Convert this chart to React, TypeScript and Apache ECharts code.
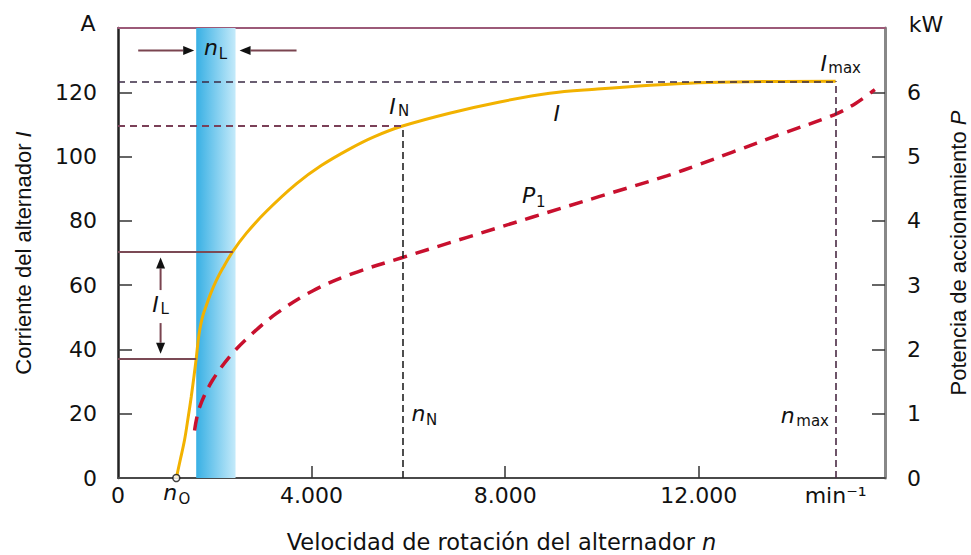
import React, { useEffect, useRef } from "react";
import * as echarts from "echarts";

// ---- data ----
const speedI = [1205, 1286, 1375, 1451, 1513, 1568, 1616, 1657, 1699, 1754, 1823, 1912, 2030, 2167, 2373, 2650, 3063, 3684, 4200, 4790, 5300, 5880, 6850, 7890, 8920, 9910, 11000, 12000, 13000, 14830];
const currentI = [0, 5.6, 11.8, 19, 25.2, 31.4, 37.1, 42.8, 46.9, 50.5, 53.6, 57.3, 61.4, 65.3, 70.5, 76.1, 82.9, 91.5, 97.2, 102.4, 106.2, 109.5, 113.5, 117, 119.7, 121, 122.2, 123, 123.3, 123.4];
const speedP = [1582, 1685, 1953, 2367, 2780, 3276, 4020, 4847, 5880, 7200, 8570, 9954, 11340, 12020, 12700, 13700, 14800, 15250, 15640];
const powerP = [0.74, 1.1, 1.52, 1.94, 2.25, 2.56, 2.91, 3.18, 3.43, 3.74, 4.06, 4.38, 4.7, 4.88, 5.07, 5.35, 5.65, 5.83, 6.04];

const xTicks = [4000, 8000, 12000];
const xLabels = [0, 4000, 8000, 12000];
const leftTicks = [20, 40, 60, 80, 100, 120];
const leftLabels = [0, 20, 40, 60, 80, 100, 120];
const rightTicks = [1, 2, 3, 4, 5, 6];
const rightLabels = [0, 1, 2, 3, 4, 5, 6];

const X_MAX = 15850;
const Y_MAX = 140;
const P_MAX = 7;
const N0 = 1205;
const N_N = 5880;
const N_MAX = 14830;
const I_N = 109.5;
const I_MAX = 123.4;
const IL = [37.1, 70.5];
const IL_SPEED = [1616, 2373];
const NL = [1616, 2429];
const NL_LABEL_I = 133;
const IL_ARROW_N = 880;
const I_LABEL = [9065, 113.5];
const P_LABEL = [8486, 4.39];
const NMARK_I = 20;

const TXT = "#111";
const TICKFONT = "DejaVu Sans";

function fmtX(v: number) {
  if (v === N_MAX) return "min\u207B\u00B9";
  if (v === 0) return "0";
  return `${v / 1000}.000`;
}

export default function App() {
  const ref = useRef<HTMLDivElement>(null);
  useEffect(() => {
    if (!ref.current) return;
    const chart = echarts.init(ref.current, null, { renderer: "svg" });
    const option: any = {
      animation: false,
      backgroundColor: "#fff",
      grid: { left: 118, right: 86, top: 28, bottom: 77, containLabel: false, outerBoundsMode: "none" },
      xAxis: [
        {
          type: "value",
          min: 0,
          max: X_MAX,
          position: "bottom",
          splitLine: { show: false },
          axisLine: { show: true, onZero: false, lineStyle: { color: "#4a4a4a", width: 2 } },
          axisTick: { show: true, inside: true, length: 12, customValues: xTicks, lineStyle: { color: "#333", width: 1.5 } },
          axisLabel: {
            customValues: [...xLabels, N_MAX],
            formatter: fmtX,
            fontFamily: TICKFONT,
            fontSize: 22,
            color: TXT,
            margin: 6,
          },
          name: "Velocidad de rotación del alternador {i|n}",
          nameLocation: "middle",
          nameGap: 52,
          nameTextStyle: {
            fontFamily: TICKFONT,
            fontSize: 22.5,
            color: TXT,
            rich: { i: { fontFamily: TICKFONT, fontSize: 22.5, fontStyle: "italic", color: TXT } },
          },
        },
        {
          type: "value",
          min: 0,
          max: X_MAX,
          position: "top",
          splitLine: { show: false },
          axisLine: { show: true, onZero: false, lineStyle: { color: "#9c5a78", width: 2 } },
          axisTick: { show: false },
          axisLabel: { show: false },
        },
      ],
      yAxis: [
        {
          type: "value",
          min: 0,
          max: Y_MAX,
          interval: 20,
          position: "left",
          splitLine: { show: false },
          axisLine: { show: true, onZero: false, lineStyle: { color: "#222", width: 2.5 } },
          axisTick: { show: true, inside: true, length: 14, customValues: leftTicks, lineStyle: { color: "#333", width: 1.5 } },
          axisLabel: { customValues: leftLabels, fontFamily: TICKFONT, fontSize: 22, color: TXT, margin: 21 },
          name: "Corriente del alternador {i|I}",
          nameLocation: "middle",
          nameRotate: 90,
          nameGap: 84,
          nameTextStyle: {
            fontFamily: "Liberation Sans",
            fontSize: 22,
            color: TXT,
            rich: { i: { fontFamily: "Liberation Sans", fontSize: 22, fontStyle: "italic", color: TXT } },
          },
        },
        {
          type: "value",
          min: 0,
          max: P_MAX,
          interval: 1,
          position: "right",
          splitLine: { show: false },
          axisLine: { show: true, onZero: false, lineStyle: { color: "#888", width: 3 } },
          axisTick: { show: true, inside: true, length: 13, customValues: rightTicks, lineStyle: { color: "#333", width: 1.5 } },
          axisLabel: { customValues: rightLabels, fontFamily: TICKFONT, fontSize: 22, color: TXT, margin: 22 },
          name: "Potencia de accionamiento {i|P}",
          nameLocation: "middle",
          nameRotate: 90,
          nameGap: 62,
          nameTextStyle: {
            fontFamily: "Liberation Sans",
            fontSize: 22,
            color: TXT,
            rich: { i: { fontFamily: "Liberation Sans", fontSize: 22, fontStyle: "italic", color: TXT } },
          },
        },
      ],
      series: [
        {
          name: "band",
          type: "line",
          data: [],
          z: 1,
          silent: true,
          markArea: {
            silent: true,
            itemStyle: {
              color: new echarts.graphic.LinearGradient(0, 0, 1, 0, [
                { offset: 0, color: "#38b0e4" },
                { offset: 1, color: "#c4eafa" },
              ]),
            },
            data: [[{ xAxis: NL[0] }, { xAxis: NL[1] }]],
          },
        },
        {
          name: "refs",
          type: "line",
          data: [],
          z: 2,
          silent: true,
          markLine: {
            silent: true,
            symbol: ["none", "none"],
            label: { show: false },
            animation: false,
            data: [
              [{ coord: [0, I_MAX], lineStyle: { color: "#3a2a44", width: 1.6, type: [7, 5] } }, { coord: [N_MAX, I_MAX] }],
              [{ coord: [0, I_N], lineStyle: { color: "#7a4058", width: 1.8, type: [7, 5] } }, { coord: [N_N, I_N] }],
              [{ coord: [N_N, 0], lineStyle: { color: "#222", width: 1.6, type: [7, 4] } }, { coord: [N_N, I_N] }],
              [{ coord: [N_MAX, 0], lineStyle: { color: "#4a2a44", width: 1.6, type: [7, 4] } }, { coord: [N_MAX, I_MAX] }],
              [{ coord: [0, IL[0]], lineStyle: { color: "#7b4a55", width: 2, type: "solid" } }, { coord: [IL_SPEED[0], IL[0]] }],
              [{ coord: [0, IL[1]], lineStyle: { color: "#7b4a55", width: 2, type: "solid" } }, { coord: [IL_SPEED[1], IL[1]] }],
            ],
          },
        },
        {
          name: "P1",
          type: "line",
          yAxisIndex: 1,
          z: 3,
          smooth: 0.35,
          symbol: "none",
          lineStyle: { color: "#c8102e", width: 3.5, type: [14, 9] },
          data: speedP.map((n, i) => [n, powerP[i]]),
        },
        {
          name: "I",
          type: "line",
          z: 4,
          smooth: 0.35,
          symbol: "none",
          lineStyle: { color: "#f2b200", width: 3 },
          data: speedI.map((n, i) => [n, currentI[i]]),
        },
        {
          name: "n0",
          type: "scatter",
          z: 5,
          symbol: "circle",
          symbolSize: 7,
          itemStyle: { color: "#fff", borderColor: "#111", borderWidth: 1.5 },
          data: [[N0, 0]],
        },
      ],
    };
    chart.setOption(option);

    const px = (n: number, v: number, yi = 0): number[] =>
      chart.convertToPixel({ xAxisIndex: 0, yAxisIndex: yi }, [n, v]) as number[];

    const italic = 'italic 22px "DejaVu Sans"';
    const sub = '15px "DejaVu Sans"';
    const txt = (text: string, x: number, y: number, font: string, align = "center") => ({
      type: "text",
      x,
      y,
      z: 20,
      silent: true,
      style: { text, font, fill: TXT, align, verticalAlign: "middle" },
    });
    const arrow = (x1: number, y1: number, x2: number, y2: number) => {
      const dx = x2 - x1;
      const dy = y2 - y1;
      const len = Math.hypot(dx, dy);
      const ux = dx / len;
      const uy = dy / len;
      const bx = x2 - ux * 11;
      const by = y2 - uy * 11;
      const pxv = -uy * 4.5;
      const pyv = ux * 4.5;
      return [
        { type: "line", z: 20, silent: true, shape: { x1, y1, x2: bx, y2: by }, style: { stroke: "#7a4450", lineWidth: 2 } },
        {
          type: "polygon",
          z: 20,
          silent: true,
          shape: { points: [[x2, y2], [bx + pxv, by + pyv], [bx - pxv, by - pyv]] },
          style: { fill: "#111" },
        },
      ];
    };

    const pN = px(N_N, I_N);
    const pMax = px(N_MAX, I_MAX);
    const pI = px(I_LABEL[0], I_LABEL[1]);
    const pP = px(P_LABEL[0], P_LABEL[1], 1);
    const pNN = px(N_N, NMARK_I);
    const pNMax = px(N_MAX, NMARK_I);
    const p0 = px(N0, 0);
    const bandL = px(NL[0], NL_LABEL_I);
    const bandR = px(NL[1], NL_LABEL_I);
    const bandC = (bandL[0] + bandR[0]) / 2;
    const ilLow = px(IL_ARROW_N, IL[0]);
    const ilHigh = px(IL_ARROW_N, IL[1]);
    const ilMid = (ilLow[1] + ilHigh[1]) / 2;
    const origin = px(0, 0);
    const corner = px(X_MAX, Y_MAX);

    const graphic: any[] = [
      txt("A", origin[0] - 30, corner[1] - 5, '22px "DejaVu Sans"'),
      txt("kW", corner[0] + 41, corner[1] - 4, '22px "DejaVu Sans"'),
      txt("I", pN[0] - 10, pN[1] - 20, italic),
      txt("N", pN[0] + 1, pN[1] - 15, sub),
      txt("I", pI[0], pI[1], italic),
      txt("P", pP[0], pP[1], italic),
      txt("1", pP[0] + 12, pP[1] + 6, sub),
      txt("I", pMax[0] - 12, pMax[1] - 18, italic),
      txt("max", pMax[0] + 9, pMax[1] - 13, sub),
      txt("n", pNN[0] + 16, pNN[1], italic),
      txt("N", pNN[0] + 29, pNN[1] + 6, sub),
      txt("n", pNMax[0] - 48, pNMax[1] + 2, italic),
      txt("max", pNMax[0] - 23, pNMax[1] + 7, sub),
      txt("n", p0[0] - 6, p0[1] + 14, italic),
      txt("O", p0[0] + 8, p0[1] + 21, sub),
      txt("n", bandC - 5, bandL[1] - 3, italic),
      txt("L", bandC + 7, bandL[1] + 3, sub),
      txt("I", ilLow[0] - 5, ilMid - 1, italic),
      txt("L", ilLow[0] + 4, ilMid + 4, sub),
      ...arrow(bandL[0] - 58, bandL[1], bandL[0] - 2, bandL[1]),
      ...arrow(bandR[0] + 61, bandR[1], bandR[0] + 4, bandR[1]),
      ...arrow(ilHigh[0], ilMid - 15, ilHigh[0], ilHigh[1] + 6),
      ...arrow(ilLow[0], ilMid + 18, ilLow[0], ilLow[1] - 5),
    ];
    chart.setOption({ graphic });

    return () => chart.dispose();
  }, []);

  return <div ref={ref} style={{ position: "fixed", left: 0, top: 0, width: 971, height: 555 }} />;
}
